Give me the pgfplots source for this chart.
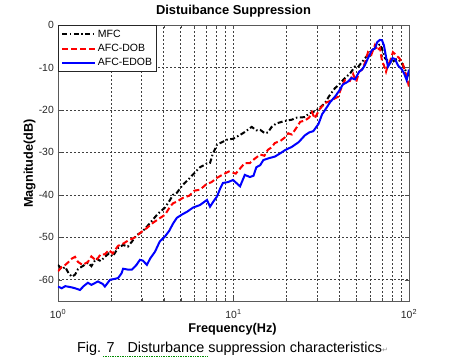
\documentclass[border=0pt]{standalone}
\usepackage{fontspec}
\setmainfont{Liberation Sans}
\newfontfamily\dejavu{DejaVu Sans}
\usepackage{pgfplots}
\pgfplotsset{compat=1.18}
\begin{document}
\begin{tikzpicture}[x=1pt,y=1pt]
\useasboundingbox (-58,-63) rectangle (392,301);
\begin{axis}[
  at={(0,0)}, anchor=south west,
  scale only axis, width=351pt, height=276pt,
  xmode=log, xmin=1, xmax=100, ymin=-65, ymax=0,
  log basis x=10,
  xtick={1,10,100},
  xticklabels={10\textsuperscript{0},10\textsuperscript{1},10\textsuperscript{2}},
  ytick={-60,-50,-40,-30,-20,-10,0},
  minor xtick={2,3,4,5,6,7,8,9,20,30,40,50,60,70,80,90},
  /pgf/number format/assume math mode=true,
  tick label style={font=\fontsize{10.4}{12}\selectfont, black!85},
  xticklabel style={anchor=base, yshift=-17pt, inner sep=0pt},
  yticklabel style={anchor=east, inner sep=0pt, xshift=-4pt},
  grid=both,
  major grid style={black!75, dash pattern=on 2pt off 2pt, line width=0.6pt},
  minor grid style={black!75, dash pattern=on 2pt off 2pt, line width=0.6pt},
  tick align=inside, major tick length=4pt, minor tick length=2.5pt,
  tick style={black!70},
  axis line style={black!65, line width=0.9pt},
  legend style={at={(0,1)}, anchor=north west, draw=black!85, line width=0.8pt,
    font=\fontsize{10.5}{12}\selectfont, inner xsep=3pt, inner ysep=3pt,
    nodes={inner sep=1.5pt}, row sep=2.5pt,
    legend cell align=left},
  legend image code/.code={\draw[#1] (0pt,0pt) -- (33pt,0pt);},
]
\addplot[black, line width=2pt, dash pattern=on 5pt off 2.5pt on 1.5pt off 2.5pt] coordinates {
(1.0,-56.5)(1.05,-57.5)(1.1,-57.0)(1.15,-58.5)(1.2,-59.3)(1.25,-58.8)(1.3,-57.5)(1.38,-56.8)
(1.48,-56.0)(1.55,-56.8)(1.65,-55.0)(1.75,-55.6)(1.85,-54.6)(1.95,-53.8)(2.05,-54.5)(2.2,-52.5)
(2.35,-51.8)(2.5,-52.2)(2.64,-51.0)(2.8,-49.5)(3.0,-48.8)(3.21,-47.5)(3.48,-45.8)(3.7,-44.5)
(4.07,-43.0)(4.35,-41.2)(4.52,-40.0)(4.76,-39.5)(5.15,-37.6)(5.5,-36.5)(5.88,-35.2)(6.44,-33.5)
(6.8,-33.0)(7.06,-32.6)(7.35,-32.5)(7.6,-30.5)(8.05,-28.2)(8.4,-27.8)(9.18,-27.0)(9.94,-26.8)
(10.9,-25.9)(11.6,-25.2)(12.4,-24.3)(12.7,-24.0)(13.5,-24.8)(14.2,-24.7)(15.1,-25.5)(15.7,-25.3)
(16.5,-24.0)(17.5,-23.2)(19.6,-22.6)(21.5,-22.3)(23,-21.8)(25.5,-21.7)(27,-20.8)(29.1,-20.3)
(31,-19.5)(33.2,-18.4)(35,-16.8)(37.8,-14.9)(40,-14.0)(43.1,-12.5)(46,-11.5)(49.2,-9.8)
(51,-10.0)(54.0,-8.7)(57,-7.5)(61.5,-5.9)(64,-5.5)(68.3,-4.5)(70,-5.5)(73.0,-7.8)(76,-8.5)
(80.0,-9.0)(83,-8.2)(86.5,-8.0)(91,-9.0)(94.9,-10.5)(100,-12.0)
};
\addlegendentry{MFC}
\addplot[red, line width=2pt, dash pattern=on 6pt off 3pt] coordinates {
(1.0,-58.0)(1.05,-57.0)(1.1,-56.5)(1.15,-55.8)(1.2,-55.0)(1.25,-54.6)(1.3,-55.8)(1.38,-56.5)
(1.48,-55.8)(1.55,-54.5)(1.65,-55.5)(1.75,-54.0)(1.85,-54.0)(1.95,-53.0)(2.05,-53.8)(2.2,-52.0)
(2.35,-51.5)(2.5,-50.8)(2.75,-50.0)(2.93,-49.0)(3.21,-47.8)(3.5,-46.5)(3.8,-45.5)(4.07,-44.7)
(4.35,-42.8)(4.52,-42.0)(4.8,-41.5)(5.15,-40.7)(5.6,-40.2)(6.0,-39.0)(6.44,-38.8)(7.0,-37.5)
(7.5,-37.0)(8.05,-36.0)(8.7,-35.2)(9.4,-34.5)(10.3,-35.0)(10.9,-33.8)(11.6,-32.5)(12.4,-32.5)
(13.2,-31.5)(14.2,-30.5)(15.0,-30.8)(15.7,-29.4)(16.5,-28.8)(17.2,-27.8)(18.5,-27.3)(19.6,-26.5)
(20.5,-25.5)(21.5,-25.8)(23,-24.0)(24,-22.8)(25.5,-22.5)(27,-21.8)(28,-20.5)(29,-22.0)
(31,-19.8)(33.2,-18.4)(35,-18.0)(37,-17.5)(39.4,-16.9)(41,-15.0)(43.1,-13.0)(46,-13.2)
(48,-11.5)(50,-13.4)(52,-11.0)(54.0,-10.5)(56,-9.0)(58.4,-6.4)(61,-7.0)(64.0,-4.7)(66,-6.0)
(68.3,-5.4)(70.2,-8.5)(72,-9.5)(74,-11.0)(76,-9.4)(78,-8.5)(81,-6.4)(84,-7.0)(88,-7.8)
(92,-9.0)(95,-11.0)(98.7,-13.5)(100,-14.6)
};
\addlegendentry{AFC-DOB}
\addplot[blue, line width=2pt] coordinates {
(1.0,-61.6)(1.05,-62.0)(1.1,-61.5)(1.2,-61.8)(1.25,-62.0)(1.335,-62.4)(1.4,-61.5)(1.48,-60.7)
(1.55,-61.2)(1.69,-60.4)(1.8,-61.0)(1.85,-61.6)(1.98,-60.0)(2.1,-59.8)(2.2,-59.6)(2.3,-58.5)
(2.35,-57.4)(2.5,-57.6)(2.64,-57.6)(2.8,-56.5)(2.93,-55.3)(3.05,-55.5)(3.21,-56.5)(3.35,-55.0)
(3.57,-53.4)(3.8,-51.0)(4.07,-49.8)(4.3,-48.5)(4.52,-46.8)(4.76,-45.4)(5.15,-44.5)(5.43,-44.0)
(5.88,-43.0)(6.44,-42.4)(7.06,-41.2)(7.35,-42.8)(7.7,-41.5)(8.05,-40.4)(8.4,-38.5)(8.71,-37.2)
(9.3,-37.0)(9.94,-36.5)(10.9,-38.0)(11.6,-35.3)(12.4,-35.8)(13.0,-35.5)(13.5,-33.5)(14.2,-33.0)
(14.8,-31.8)(16.1,-31.3)(17.2,-31.0)(18.5,-30.2)(19.6,-29.5)(21.5,-28.7)(23.5,-27.6)(25.5,-26.0)
(27.0,-25.3)(28.5,-25.0)(30.5,-23.3)(32,-21.0)(33.5,-19.8)(35.5,-18.2)(38,-16.8)(40,-15.5)
(42,-14.0)(44.7,-13.4)(47,-12.5)(49.2,-12.8)(52,-11.0)(54,-10.5)(56,-9.5)(58.4,-7.8)
(61.5,-5.9)(64,-5.5)(66,-4.0)(68.3,-3.5)(70.2,-3.6)(72,-4.8)(74,-7.5)(75.9,-9.8)(78,-9.0)
(80.5,-7.8)(83.2,-8.0)(86.5,-9.5)(91.2,-10.5)(94,-11.5)(97,-13.0)(100,-10.5)
};
\addlegendentry{AFC-EDOB}
\end{axis}
\node[anchor=base, inner sep=0pt, font=\fontsize{12.9}{14}\selectfont\bfseries] at (175.5,286) {Distuibance Suppression};
\node[anchor=base, inner sep=0pt, font=\fontsize{12.7}{14}\selectfont\bfseries] at (174.5,-32) {Frequency(Hz)};
\node[anchor=base, inner sep=0pt, rotate=90, font=\fontsize{12.7}{14}\selectfont\bfseries] at (-25,137.5) {Magnitude(dB)};
\node[font=\fontsize{14.4}{16}\selectfont, anchor=base west, inner sep=0pt] at (19,-52)
  {Fig. 7\hspace{13pt}Disturbance suppression characteristics{\dejavu\fontsize{7}{8}\selectfont\color{black!45}↵}};
\draw[green!55!black, line width=0.6pt, dash pattern=on 1pt off 0.7pt] (45,-55) -- (149,-55);
\end{tikzpicture}
\end{document}
